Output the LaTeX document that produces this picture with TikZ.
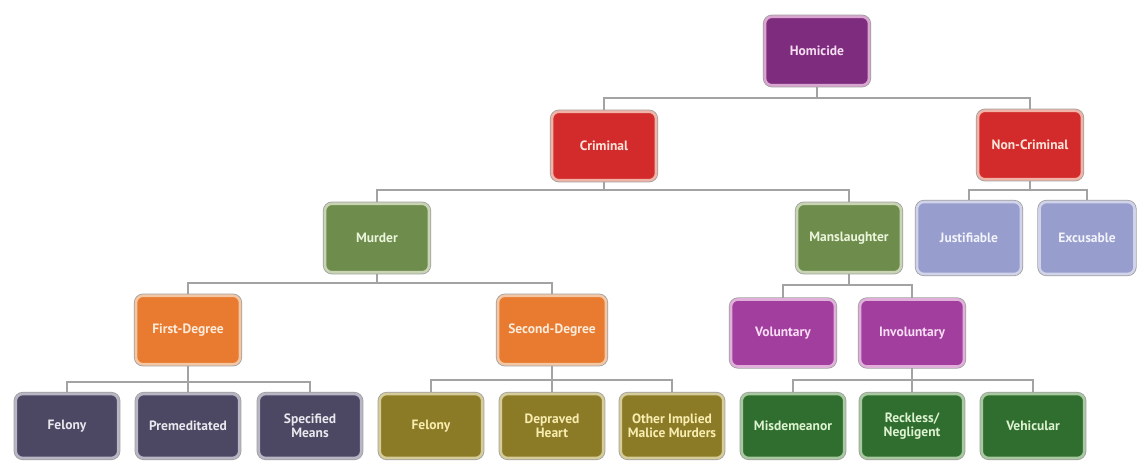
\documentclass[tikz,border=0pt]{standalone}
\usepackage{fontspec}
\setmainfont{PT Sans}
\usetikzlibrary{backgrounds}
\definecolor{cPurF}{HTML}{7E2D7E}\definecolor{cPurB}{HTML}{D9A6CF}\definecolor{cPurT}{HTML}{F6DDF2}
\definecolor{cRedF}{HTML}{D32B2B}\definecolor{cRedB}{HTML}{F0B3A8}\definecolor{cRedT}{HTML}{FCE6DC}
\definecolor{cGrnF}{HTML}{6E8C4C}\definecolor{cGrnB}{HTML}{C8D4B4}\definecolor{cGrnT}{HTML}{EAF5DC}
\definecolor{cOraF}{HTML}{E87B2F}\definecolor{cOraB}{HTML}{F4C7A4}\definecolor{cOraT}{HTML}{FDEBDC}
\definecolor{cLavF}{HTML}{979DCD}\definecolor{cLavB}{HTML}{D0D3EA}\definecolor{cLavT}{HTML}{F2F3FB}
\definecolor{cSlaF}{HTML}{4C4762}\definecolor{cSlaB}{HTML}{B8B6C4}\definecolor{cSlaT}{HTML}{E8E8EE}
\definecolor{cOliF}{HTML}{8C7B26}\definecolor{cOliB}{HTML}{D5CC9A}\definecolor{cOliT}{HTML}{F8EDB0}
\definecolor{cMagF}{HTML}{A13E9E}\definecolor{cMagB}{HTML}{E0B0DA}\definecolor{cMagT}{HTML}{F8DDF4}
\definecolor{cDgrF}{HTML}{2F6E2F}\definecolor{cDgrB}{HTML}{A8C8A0}\definecolor{cDgrT}{HTML}{DDF2D0}
\definecolor{cLine}{HTML}{A3A3A3}
\tikzset{
  box/.style n args={3}{rectangle, rounded corners=7pt, fill=#1, draw=#2, line width=2.6pt,
    preaction={draw=gray!75, line width=4.2pt},
    text=#3, font=\fontsize{13.5}{14.5}\selectfont\bfseries, align=center, inner sep=1pt,
    minimum width=104pt, minimum height=68.5pt},
  low/.style={minimum height=64pt, minimum width=102.5pt},
  conn/.style={draw=cLine, line width=1.6pt},
}
\begin{document}
\begin{tikzpicture}[x=1pt,y=-1pt]
\useasboundingbox (0,0) rectangle (1138,463);
% level 0
\node[box={cPurF}{cPurB}{cPurT}] (hom) at (817,51) {Homicide};
% level 1
\node[box={cRedF}{cRedB}{cRedT}] (crim) at (604,146) {Criminal};
\node[box={cRedF}{cRedB}{cRedT}] (noncrim) at (1030,145) {Non-Criminal};
% level 2
\node[box={cGrnF}{cGrnB}{cGrnT}] (mur) at (377,238) {Murder};
\node[box={cGrnF}{cGrnB}{cGrnT}] (man) at (849,238) {Manslaughter};
\node[box={cLavF}{cLavB}{cLavT}, minimum height=72pt] (jus) at (969,238) {Justifiable};
\node[box={cLavF}{cLavB}{cLavT}, minimum height=72pt, minimum width=95pt] (exc) at (1087,238) {Excusable};
% level 3
\node[box={cOraF}{cOraB}{cOraT}] (first) at (188,330) {First-Degree};
\node[box={cOraF}{cOraB}{cOraT}, minimum width=108pt] (second) at (552,330) {Second-Degree};
\node[box={cMagF}{cMagB}{cMagT}, minimum height=67pt] (vol) at (783,333) {Voluntary};
\node[box={cMagF}{cMagB}{cMagT}, minimum height=67pt] (invol) at (912,333) {Involuntary};
% level 4
\node[box={cSlaF}{cSlaB}{cSlaT}, low] (fel1) at (67,426) {Felony};
\node[box={cSlaF}{cSlaB}{cSlaT}, low] (pre) at (188,426) {Premeditated};
\node[box={cSlaF}{cSlaB}{cSlaT}, low] (spe) at (310,426) {Specified\\Means};
\node[box={cOliF}{cOliB}{cOliT}, low] (fel2) at (431,426) {Felony};
\node[box={cOliF}{cOliB}{cOliT}, low] (dep) at (552,426) {Depraved\\Heart};
\node[box={cOliF}{cOliB}{cOliT}, low] (oth) at (672,426) {Other Implied\\Malice Murders};
\node[box={cDgrF}{cDgrB}{cDgrT}, low] (mis) at (793,426) {Misdemeanor};
\node[box={cDgrF}{cDgrB}{cDgrT}, low] (rec) at (912,426) {Reckless/\\Negligent};
\node[box={cDgrF}{cDgrB}{cDgrT}, low] (veh) at (1033,426) {Vehicular};
\begin{scope}[on background layer]
\fill[white] (0,0) rectangle (1138,463);
\foreach \p/\y/\cs in {hom/98/{crim,noncrim}, crim/190/{mur,man}, noncrim/190/{jus,exc},
    mur/283/{first,second}, man/285/{vol,invol}, first/382/{fel1,pre,spe},
    second/380/{fel2,dep,oth}, invol/380/{mis,rec,veh}}{
  \foreach \c in \cs {
    \draw[conn] (\p.south) -- (\p.south |- 0,\y) -| (\c.north);
  }
}
\end{scope}
\end{tikzpicture}
\end{document}
